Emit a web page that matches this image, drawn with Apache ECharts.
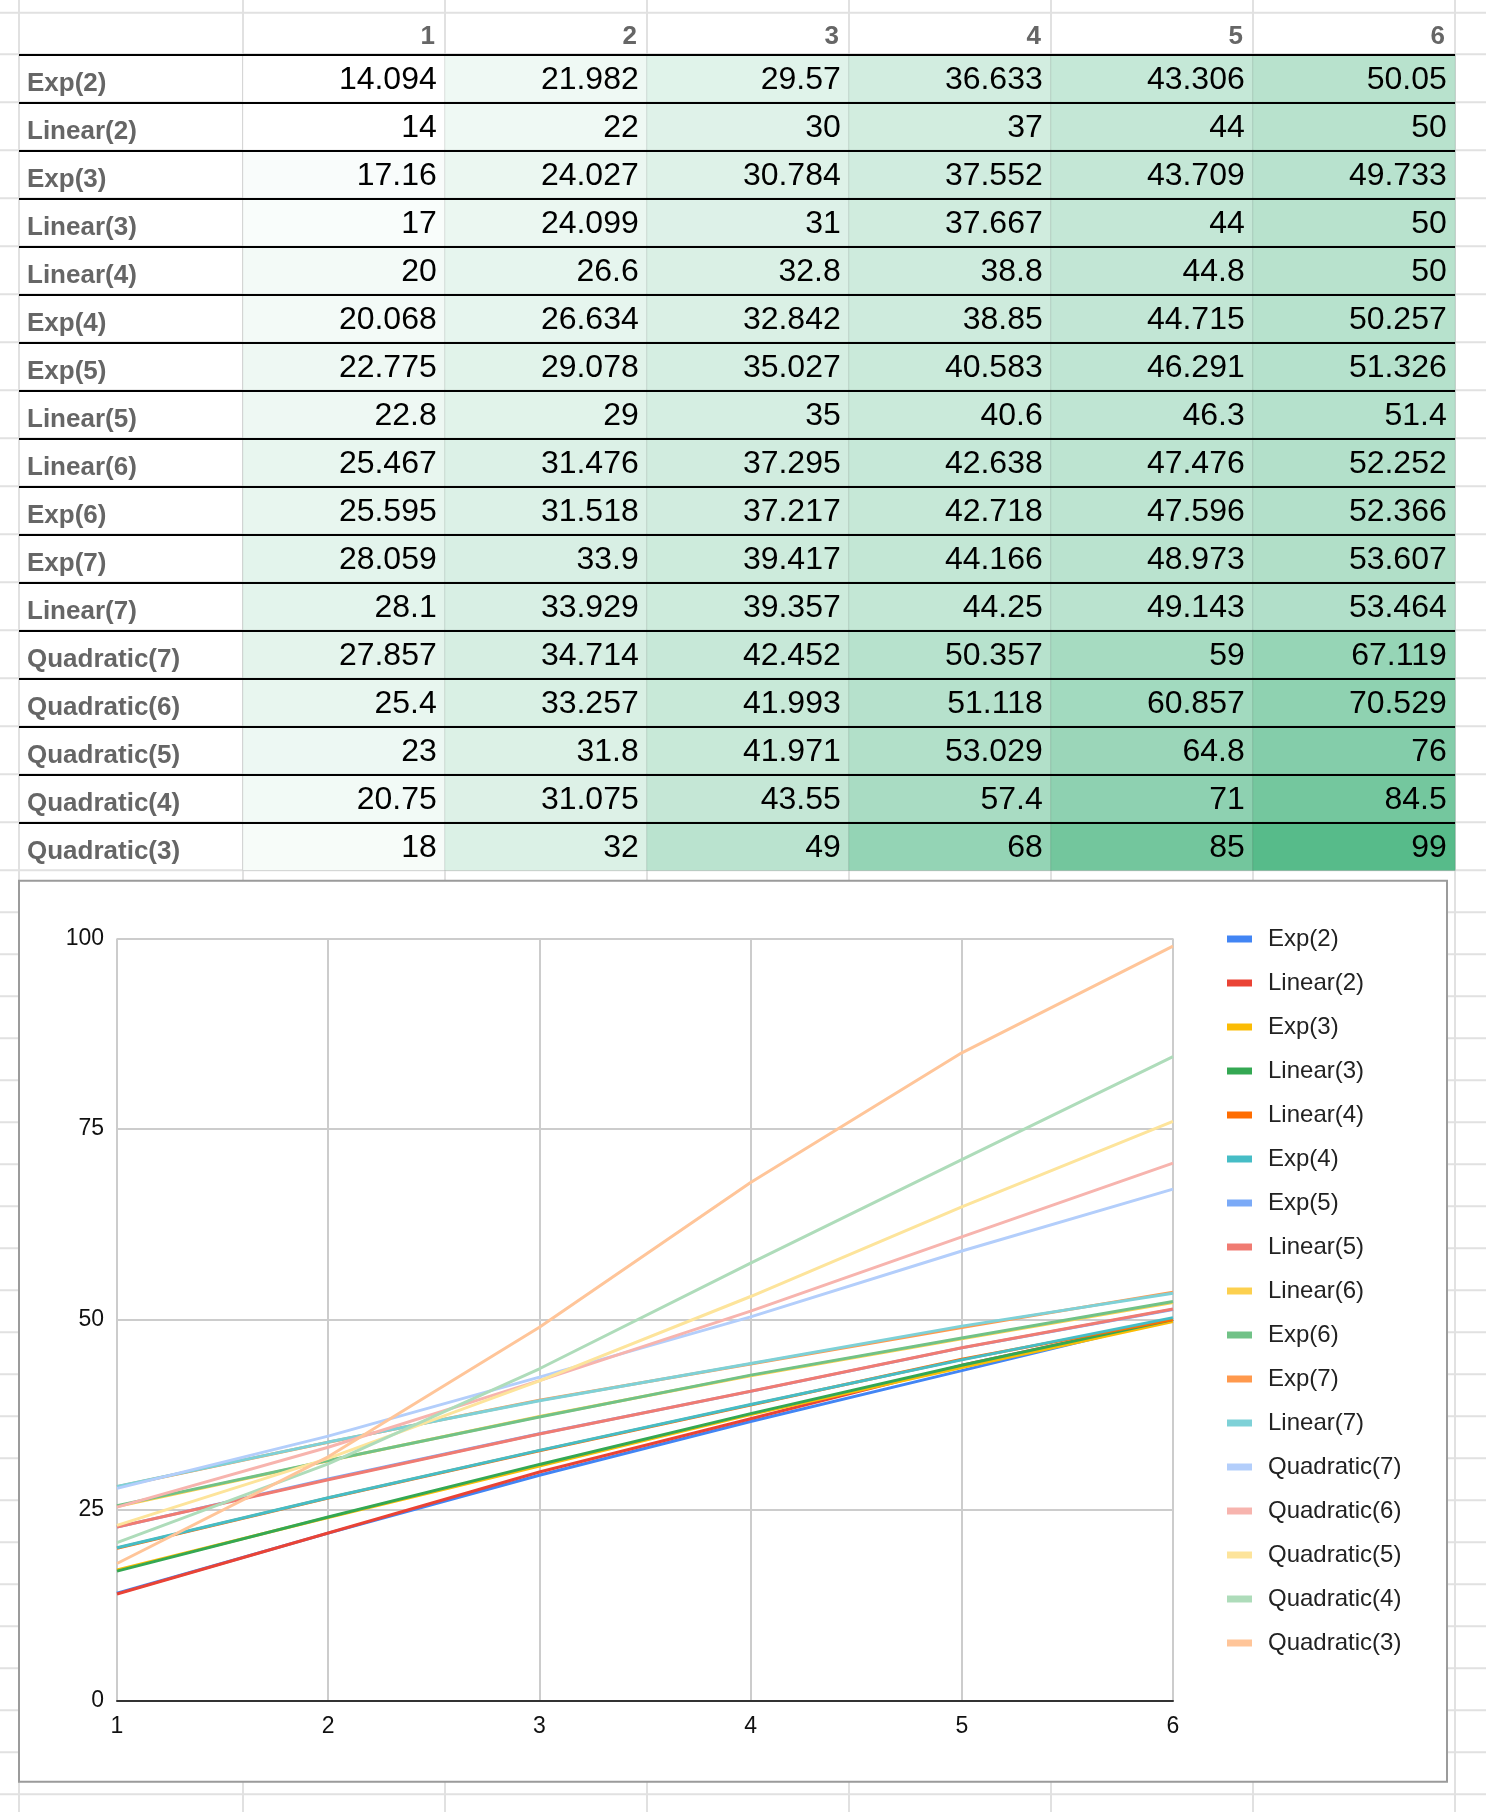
<!DOCTYPE html>
<html>
<head>
<meta charset="utf-8">
<script src="https://cdn.jsdelivr.net/npm/echarts@6/dist/echarts.min.js"></script>
<style>
html,body{margin:0;padding:0;background:#fff;}
#c{width:1486px;height:1812px;}
</style>
</head>
<body>
<div id="c"></div>
<script>
// ---------- data ----------
const columns = ['1', '2', '3', '4', '5', '6'];
const xValues = [1, 2, 3, 4, 5, 6];
const rowNames = ['Exp(2)', 'Linear(2)', 'Exp(3)', 'Linear(3)', 'Linear(4)', 'Exp(4)', 'Exp(5)', 'Linear(5)', 'Linear(6)', 'Exp(6)', 'Exp(7)', 'Linear(7)', 'Quadratic(7)', 'Quadratic(6)', 'Quadratic(5)', 'Quadratic(4)', 'Quadratic(3)'];
const exp2 = [14.094, 21.982, 29.57, 36.633, 43.306, 50.05];
const linear2 = [14, 22, 30, 37, 44, 50];
const exp3 = [17.16, 24.027, 30.784, 37.552, 43.709, 49.733];
const linear3 = [17, 24.099, 31, 37.667, 44, 50];
const linear4 = [20, 26.6, 32.8, 38.8, 44.8, 50];
const exp4 = [20.068, 26.634, 32.842, 38.85, 44.715, 50.257];
const exp5 = [22.775, 29.078, 35.027, 40.583, 46.291, 51.326];
const linear5 = [22.8, 29, 35, 40.6, 46.3, 51.4];
const linear6 = [25.467, 31.476, 37.295, 42.638, 47.476, 52.252];
const exp6 = [25.595, 31.518, 37.217, 42.718, 47.596, 52.366];
const exp7 = [28.059, 33.9, 39.417, 44.166, 48.973, 53.607];
const linear7 = [28.1, 33.929, 39.357, 44.25, 49.143, 53.464];
const quad7 = [27.857, 34.714, 42.452, 50.357, 59, 67.119];
const quad6 = [25.4, 33.257, 41.993, 51.118, 60.857, 70.529];
const quad5 = [23, 31.8, 41.971, 53.029, 64.8, 76];
const quad4 = [20.75, 31.075, 43.55, 57.4, 71, 84.5];
const quad3 = [18, 32, 49, 68, 85, 99];
const rowValues = [exp2, linear2, exp3, linear3, linear4, exp4, exp5, linear5, linear6, exp6, exp7, linear7, quad7, quad6, quad5, quad4, quad3];
const yTicks = [0, 25, 50, 75, 100];

// ---------- styles / layout ----------
const FONT = '"Liberation Sans", Arial, Helvetica, sans-serif';
const palette = ['#4285f4', '#ea4335', '#fbbc04', '#34a853', '#ff6d01', '#46bdc6', '#7baaf7', '#f07b72', '#fcd04f', '#71c287', '#ff994d', '#7ed1d7', '#b3cefb', '#f7b4ae', '#fde49b', '#aedcba', '#ffc599'];
const W = 1486, H = 1812;
const sheetCols = [19, 243, 445, 647, 849, 1051, 1253, 1455];
const tableTop = 54.3, rowH = 48, headerTop = 12.7, lowRowH = 42;
const tableBottom = tableTop + rowH * rowNames.length;

const sheetLines = [];
sheetCols.forEach(x => sheetLines.push({type: 'line', silent: true, z: -20,
  shape: {x1: x, y1: 0, x2: x, y2: H}, style: {stroke: '#e1e1e1', lineWidth: 2}}));
const hs = [headerTop];
for (let i = 0; i <= rowNames.length; i++) hs.push(tableTop + i * rowH);
for (let y = tableBottom + lowRowH; y < H; y += lowRowH) hs.push(y);
hs.forEach(y => sheetLines.push({type: 'line', silent: true, z: -20,
  shape: {x1: 0, y1: y, x2: W, y2: y}, style: {stroke: '#e1e1e1', lineWidth: 2}}));
sheetLines.push({type: 'rect', silent: true, z: -10,
  shape: {x: 19, y: 880.7, width: 1428, height: 901},
  style: {fill: '#ffffff', stroke: '#9b9b9b', lineWidth: 2}});

const heatData = [];
rowValues.forEach((vals, r) => vals.forEach((v, c) => heatData.push([c, r, v])));

const lineSeries = rowNames.map((name, i) => ({
  name: name, type: 'line', xAxisIndex: 2, yAxisIndex: 2,
  showSymbol: false, symbol: 'none', animation: false,
  color: palette[i],
  lineStyle: {width: 3, color: palette[i]},
  emphasis: {disabled: true},
  data: xValues.map((x, k) => [x, rowValues[i][k]])
}));

const chart = echarts.init(document.getElementById('c'), null, {renderer: 'canvas'});
chart.setOption({
  animation: false,
  backgroundColor: '#ffffff',
  textStyle: {fontFamily: FONT},
  graphic: {elements: sheetLines},
  grid: [
    {left: 19, width: 224, top: tableTop, height: tableBottom - tableTop},
    {left: 243, right: W - 1455, top: tableTop, height: tableBottom - tableTop},
    {left: 117, right: W - 1173, top: 938.5, bottom: H - 1700.7}
  ],
  xAxis: [
    {gridIndex: 0, type: 'category', data: [''], show: false},
    {gridIndex: 1, type: 'category', data: columns, position: 'top',
     axisLine: {show: false}, axisTick: {show: false}, splitLine: {show: false},
     axisLabel: {margin: 4, formatter: '{h|{value}}',
       rich: {h: {width: 182, align: 'right', fontSize: 26, fontWeight: 'bold', color: '#666666', fontFamily: FONT}}}},
    {gridIndex: 2, type: 'value', min: 1, max: 6, interval: 1,
     axisLine: {show: true, lineStyle: {color: '#333333', width: 2}},
     axisTick: {show: false},
     splitLine: {show: true, lineStyle: {color: '#cccccc', width: 2}},
     axisLabel: {margin: 14, fontSize: 23, color: '#111111', fontFamily: FONT}}
  ],
  yAxis: [
    {gridIndex: 0, type: 'category', data: rowNames, inverse: true, z: 5,
     axisLine: {show: false}, axisTick: {show: false},
     splitLine: {show: true, showMaxLine: false, lineStyle: {color: '#000000', width: 2}},
     axisLabel: {inside: true, margin: 8, fontSize: 26, fontWeight: 'bold', color: '#666666', fontFamily: FONT,
       verticalAlign: 'top', lineHeight: 11}},
    {gridIndex: 1, type: 'category', data: rowNames, inverse: true, z: 5,
     axisLine: {show: false}, axisTick: {show: false}, axisLabel: {show: false},
     splitLine: {show: true, showMaxLine: false, lineStyle: {color: '#000000', width: 2}}},
    {gridIndex: 2, type: 'value', min: 0, max: 100, interval: 25,
     axisLine: {show: false}, axisTick: {show: false},
     splitLine: {show: true, showMinLine: false, lineStyle: {color: '#cccccc', width: 2}},
     axisLabel: {margin: 13, fontSize: 23, color: '#111111', fontFamily: FONT,
       formatter: v => (yTicks.indexOf(v) >= 0 ? String(v) : '')}}
  ],
  visualMap: {show: false, seriesIndex: 0, dimension: 2, min: 14, max: 99,
    inRange: {color: ['#ffffff', '#57bb8a']}},
  legend: {
    orient: 'vertical', left: 1222, top: 922,
    icon: 'rect', itemWidth: 25, itemHeight: 7, itemGap: 20,
    data: rowNames,
    textStyle: {fontSize: 24, color: '#222222', fontFamily: FONT, lineHeight: 24, padding: [0, 0, 0, 11]}
  },
  series: [
    {name: 'table', type: 'heatmap', xAxisIndex: 1, yAxisIndex: 1, data: heatData,
     itemStyle: {borderColor: 'rgba(0,0,0,0.1)', borderWidth: 1},
     emphasis: {disabled: true},
     label: {show: true, position: 'insideRight', distance: 9, offset: [0, 2], fontSize: 32, color: '#000000', fontFamily: FONT,
       formatter: p => String(p.value[2])}}
  ].concat(lineSeries)
});
</script>
</body>
</html>
